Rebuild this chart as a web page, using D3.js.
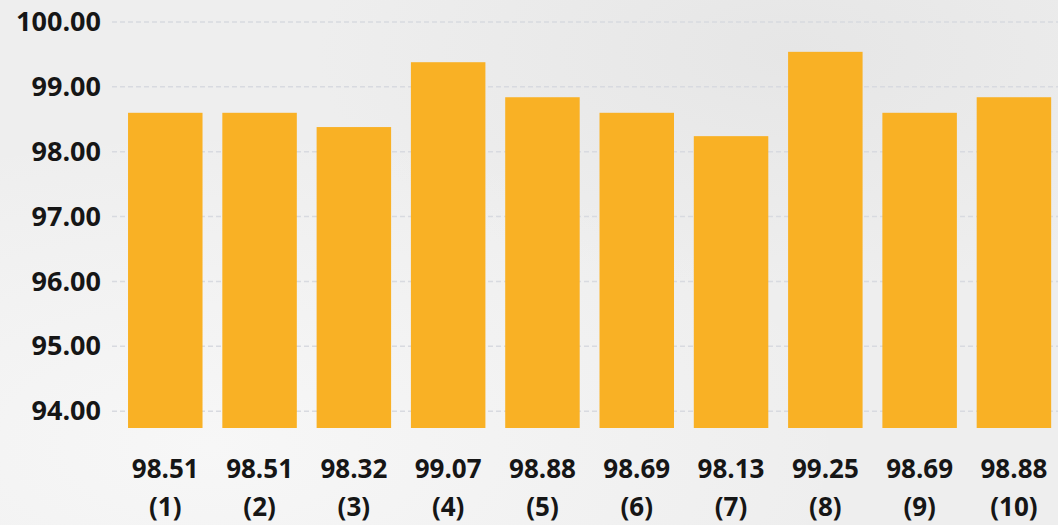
<!DOCTYPE html>
<html>
<head>
<meta charset="utf-8">
<script src="https://cdn.jsdelivr.net/npm/d3@7"></script>
<style>
  html, body { margin: 0; padding: 0; background: #efefef; }
  svg { display: block; }
  text { font-family: "Open Sans", "Noto Sans", sans-serif; font-weight: 700; fill: #161616; }
</style>
</head>
<body>
<svg id="chart" width="1058" height="525"></svg>
<script>
// Data
const categories = ["(1)", "(2)", "(3)", "(4)", "(5)", "(6)", "(7)", "(8)", "(9)", "(10)"];
const valueLabels = ["98.51", "98.51", "98.32", "99.07", "98.88", "98.69", "98.13", "99.25", "98.69", "98.88"];
const barValues = [98.60, 98.60, 98.38, 99.38, 98.84, 98.60, 98.24, 99.54, 98.60, 98.84];
const yTicks = [94, 95, 96, 97, 98, 99, 100];

const W = 1058, H = 525;
const svg = d3.select("#chart");

// background with a faint marble-like texture
const defs = svg.append("defs");
const g1 = defs.append("radialGradient").attr("id", "bgA").attr("cx", "20%").attr("cy", "85%").attr("r", "60%");
g1.append("stop").attr("offset", "0%").attr("stop-color", "#f7f7f7");
g1.append("stop").attr("offset", "100%").attr("stop-color", "#f7f7f7").attr("stop-opacity", 0);
const g2 = defs.append("radialGradient").attr("id", "bgB").attr("cx", "75%").attr("cy", "10%").attr("r", "45%");
g2.append("stop").attr("offset", "0%").attr("stop-color", "#e6e6e6");
g2.append("stop").attr("offset", "100%").attr("stop-color", "#e6e6e6").attr("stop-opacity", 0);
svg.append("rect").attr("width", W).attr("height", H).attr("fill", "#eeeeee");
svg.append("rect").attr("width", W).attr("height", H).attr("fill", "url(#bgA)");
svg.append("rect").attr("width", W).attr("height", H).attr("fill", "url(#bgB)");

const yMin = 93.74;
const y = d3.scaleLinear().domain([yMin, 100]).range([428, 22]);
const x = d3.scaleBand().domain(categories).range([118.6, 1060.6]).paddingInner(0.21).paddingOuter(0.1);

// gridlines
svg.append("g").selectAll("line").data(yTicks).join("line")
  .attr("x1", 112).attr("x2", W)
  .attr("y1", d => y(d)).attr("y2", d => y(d))
  .attr("stroke", "#d8dae0").attr("stroke-width", 1.5)
  .attr("stroke-dasharray", "5,3");

// y axis labels
const yAxis = d3.axisLeft(y).tickValues(yTicks).tickFormat(d3.format(".2f")).tickSize(0).tickPadding(0);
const ya = svg.append("g").attr("transform", "translate(101,0)").call(yAxis);
ya.select(".domain").remove();
ya.selectAll("text").attr("font-size", 27).style("font-weight", 700).attr("fill", "#161616")
  .attr("font-family", "Open Sans, Noto Sans, sans-serif");

// bars
svg.append("g").selectAll("rect").data(barValues).join("rect")
  .attr("x", (d, i) => x(categories[i]))
  .attr("width", x.bandwidth())
  .attr("y", d => y(d))
  .attr("height", d => y(yMin) - y(d))
  .attr("fill", "#f9b125");

// category labels (value + index)
const lab = svg.append("g").selectAll("g").data(categories).join("g")
  .attr("transform", d => `translate(${x(d) + x.bandwidth() / 2},0)`);
lab.append("text").attr("y", 478).attr("text-anchor", "middle").attr("font-size", 26)
  .text((d, i) => valueLabels[i]);
lab.append("text").attr("y", 516).attr("text-anchor", "middle").attr("font-size", 26)
  .text(d => d);
</script>
</body>
</html>
